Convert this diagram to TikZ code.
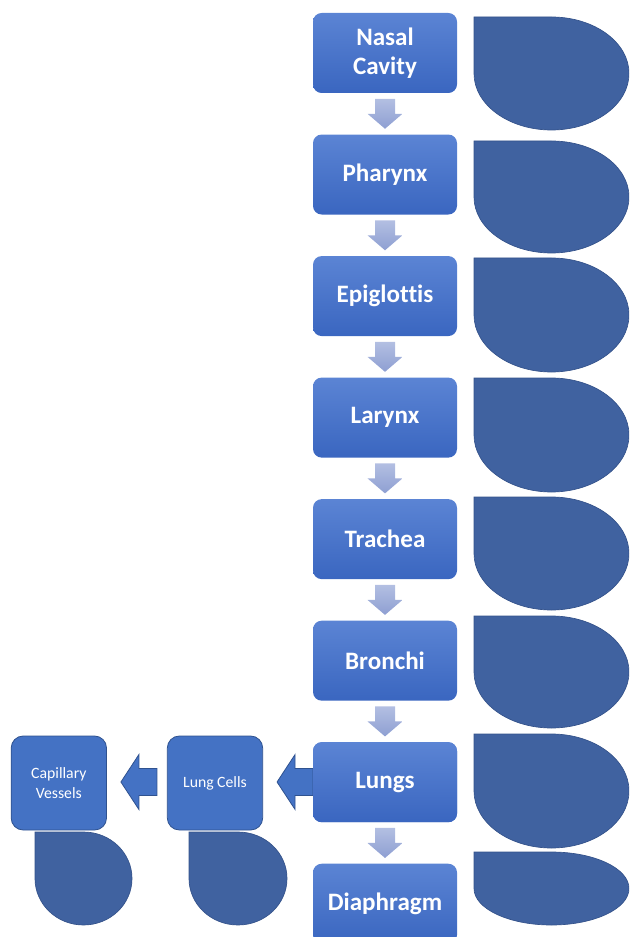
\documentclass[tikz,border=0pt]{standalone}
\usepackage{fontspec}
\setmainfont{Carlito}[Ligatures=NoCommon]
\usetikzlibrary{positioning,calc}

\definecolor{stagetop}{HTML}{5B84D4}
\definecolor{stagebot}{HTML}{3A66C0}
\definecolor{flowtop}{HTML}{B3BFE2}
\definecolor{flowbot}{HTML}{8E9FD2}
\definecolor{dropfill}{HTML}{4062A0}
\definecolor{dropline}{HTML}{34528A}
\definecolor{cellfill}{HTML}{4472C4}
\definecolor{cellline}{HTML}{2F528F}

\tikzset{
  stage/.style={rectangle, rounded corners=6.5pt, minimum width=108pt, minimum height=60pt,
    inner sep=0pt, top color=stagetop, bottom color=stagebot, draw=none, text=white,
    align=center, font=\fontsize{18.8}{21.5}\selectfont\bfseries},
  cellbox/.style={rectangle, rounded corners=9pt, minimum width=71.5pt, minimum height=70.5pt,
    inner sep=0pt, fill=cellfill, draw=cellline, line width=0.6pt, text=white,
    align=center, font=\fontsize{11.8}{14.6}\selectfont},
  downflow/.style={top color=flowtop, bottom color=flowbot, draw=none},
  leftflow/.style={fill=cellfill, draw=cellline, line width=0.6pt},
  teardrop/.style={fill=dropfill, draw=dropline, line width=0.5pt},
  pics/drop/.style 2 args={code={
    \path[teardrop] (0,0) -- (#1/2,0)
      arc[start angle=90, end angle=-180, x radius=#1/2, y radius=#2/2] -- cycle;
  }}
}

% block arrow from one stage down to the next
\newcommand{\flowdown}[2]{%
  \path[downflow] ($(#1.south)!0.5!(#2.north)+(-10,15)$) -- ++(20,0) -- ++(0,-15)
    -- ++(7.5,0) -- ++(-17.5,-15) -- ++(-17.5,15) -- ++(7.5,0) -- cycle;}
% block arrow pointing left, tip near the east side of #2
\newcommand{\flowleft}[2]{%
  \path[leftflow] ($(#2.east)+(14,1)$) -- ++(18,27.5) -- ++(0,-14) -- ++(18,0)
    -- ++(0,-27) -- ++(-18,0) -- ++(0,-14) -- cycle;}

\begin{document}
\begin{tikzpicture}[x=0.75pt, y=0.75pt]
\clip (0,0) rectangle (629,-937);
\useasboundingbox (0,0) rectangle (629,-937);

% shapes on the right of the column
\pic at (474,-17) {drop={155}{113}};
\pic at (474,-141) {drop={155}{112}};
\pic at (474,-258) {drop={155}{114}};
\pic at (474,-378) {drop={155}{114}};
\pic at (474,-497) {drop={155}{113}};
\pic at (474,-616) {drop={155}{112}};
\pic at (474,-734) {drop={155}{114}};
\pic at (474,-852) {drop={155}{73}};

% shapes under the side boxes
\pic at (35,-832) {drop={97}{93}};
\pic at (189,-832) {drop={98}{93}};

% main column
\node[stage] (nasal) at (385,-53) {Nasal\\Cavity};
\node[stage, below=30.75pt of nasal] (pharynx) {Pharynx};
\node[stage, below=30.75pt of pharynx] (epiglottis) {Epiglottis};
\node[stage, below=30.75pt of epiglottis] (larynx) {Larynx};
\node[stage, below=30.75pt of larynx] (trachea) {Trachea};
\node[stage, below=30.75pt of trachea] (bronchi) {Bronchi};
\node[stage, below=30.75pt of bronchi] (lungs) {Lungs};
\node[stage, below=30.75pt of lungs] (diaphragm) {Diaphragm};

% side boxes
\node[cellbox] (cells) at (215,-783) {Lung Cells};
\node[cellbox, left=45pt of cells] (capillary) {Capillary\\Vessels};

\flowdown{nasal}{pharynx}
\flowdown{pharynx}{epiglottis}
\flowdown{epiglottis}{larynx}
\flowdown{larynx}{trachea}
\flowdown{trachea}{bronchi}
\flowdown{bronchi}{lungs}
\flowdown{lungs}{diaphragm}

\flowleft{lungs}{cells}
\flowleft{cells}{capillary}
\node[stage] at (lungs) {Lungs};
\end{tikzpicture}
\end{document}
